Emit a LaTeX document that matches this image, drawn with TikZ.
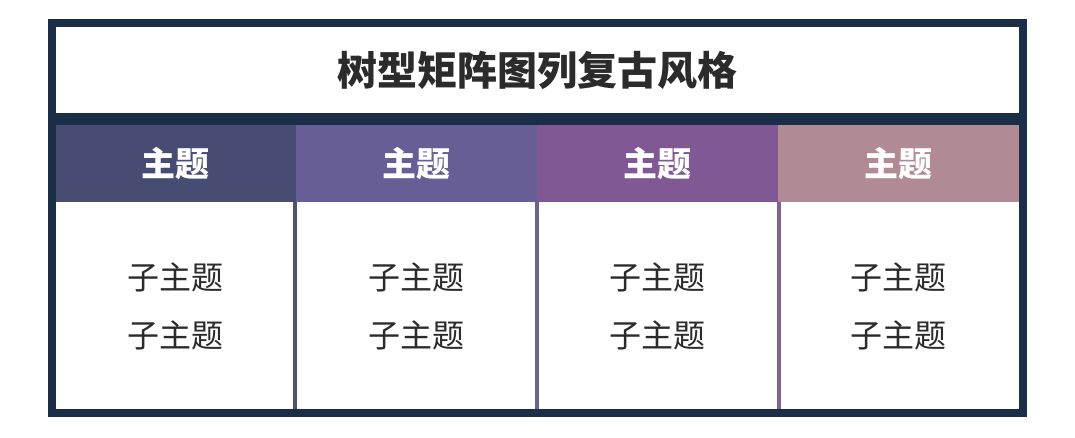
\documentclass[tikz,border=0pt]{standalone}
\usepackage{fontspec}
\setmainfont{Noto Sans CJK SC}
\definecolor{navy}{HTML}{1B2E47}
\definecolor{hA}{HTML}{474D72}
\definecolor{hB}{HTML}{675E96}
\definecolor{hC}{HTML}{805893}
\definecolor{hD}{HTML}{B08B93}
\definecolor{dA}{HTML}{4E5476}
\definecolor{dB}{HTML}{6C648E}
\definecolor{dC}{HTML}{82628F}
\definecolor{txt}{HTML}{2B2B2B}
\tikzset{
  headcell/.style={rectangle, inner sep=0pt, minimum width=240.75pt, minimum height=77pt,
    text=white, font=\fontsize{34}{36}\selectfont\bfseries},
  bodytext/.style={inner sep=0pt, align=center, text=txt,
    font=\fontsize{32}{58}\selectfont},
  divider/.style={line width=4pt},
}
\begin{document}
\begin{tikzpicture}[x=1pt, y=-1pt]
\useasboundingbox (0,0) rectangle (1075,437);
\fill[white] (0,0) rectangle (1075,437);
% title
\node[font=\fontsize{40}{42}\selectfont\bfseries, text=txt, inner sep=0pt] (title) at (537,70) {树型矩阵图列复古风格};
% header cells
\node[headcell, fill=hA] (h1) at (175.875,163.5) {主题};
\node[headcell, fill=hB] (h2) at (416.625,163.5) {主题};
\node[headcell, fill=hC] (h3) at (657.375,163.5) {主题};
\node[headcell, fill=hD] (h4) at (898.125,163.5) {主题};
% body texts
\node[bodytext] (b1) at (175.875,306) {子主题\\子主题};
\node[bodytext] (b2) at (416.625,306) {子主题\\子主题};
\node[bodytext] (b3) at (657.375,306) {子主题\\子主题};
\node[bodytext] (b4) at (898.125,306) {子主题\\子主题};
% dividers
\draw[divider, dA] (295.3,202) -- (295.3,410);
\draw[divider, dB] (537,202) -- (537,410);
\draw[divider, dC] (778.7,202) -- (778.7,410);
% separator below title
\draw[navy, line width=12pt] (47.5,119) -- (1026.5,119);
% outer frame
\draw[navy, line width=8pt] (51.5,23) rectangle (1022.5,413);
\end{tikzpicture}
\end{document}
